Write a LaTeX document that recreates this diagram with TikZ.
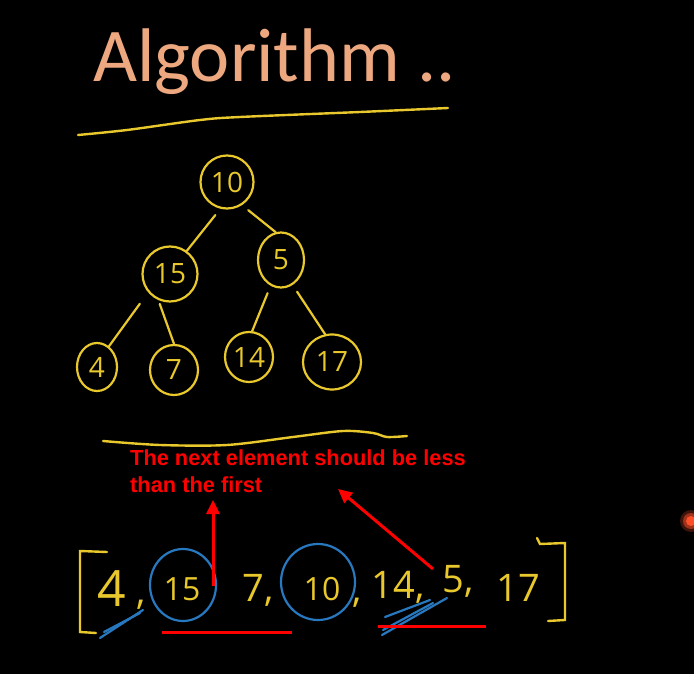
\documentclass[tikz,border=0pt]{standalone}
\usepackage{fontspec}
\setmainfont{Liberation Sans}
\newfontfamily\titlefont{Carlito}
\newfontfamily\handfont{Open Sans}
\usetikzlibrary{arrows.meta,shapes.geometric}
\definecolor{chalk}{RGB}{232,200,44}
\definecolor{peach}{RGB}{238,168,128}
\definecolor{penblue}{RGB}{40,120,192}
\definecolor{penred}{RGB}{255,0,0}
\definecolor{glow}{RGB}{255,80,40}
\tikzset{
  treenode/.style={ellipse, draw=chalk, line width=2.2pt, text=chalk, inner sep=0pt,
    font=\handfont\fontsize{28}{28}\selectfont},
  treeedge/.style={draw=chalk, line width=2.2pt, line cap=round},
  chalkline/.style={draw=chalk, line width=2.4pt, line cap=round},
  digit/.style={anchor=base, text=chalk, inner sep=0pt, font=\handfont\fontsize{38}{38}\selectfont},
  smalldigit/.style={digit, font=\handfont\fontsize{32}{32}\selectfont},
  bigdigit/.style={digit, font=\handfont\fontsize{50}{50}\selectfont},
  bluemark/.style={draw=penblue, line width=2.2pt, line cap=round},
  redline/.style={draw=penred, line width=3pt},
  redarrow/.style={draw=penred, line width=3pt, -{Triangle[length=14pt,width=13pt]}},
}
\begin{document}
\begin{tikzpicture}[x=1pt,y=-1pt]
\fill[black] (0,0) rectangle (694,674);
\useasboundingbox (0,0) rectangle (694,674);

% title
\node[anchor=base west, inner sep=0pt, text=peach, font=\titlefont\fontsize{76}{80}\selectfont] (title) at (93,82) {Algorithm ..};
\draw[chalkline] plot[smooth] coordinates {(78,135) (127,130) (200,120) (240,117) (360,112) (448,108)};

% tree
\node[treenode, minimum width=53pt, minimum height=53pt] (n10) at (227,182) {10};
\node[treenode, minimum width=55pt, minimum height=55pt] (n15) at (170,274) {15};
\node[treenode, minimum width=46pt, minimum height=55pt] (n5) at (281,260) {5};
\node[treenode, minimum width=40pt, minimum height=48pt] (n4) at (97,367) {4};
\node[treenode, minimum width=48pt, minimum height=50pt] (n7) at (174,370) {7};
\node[treenode, minimum width=48pt, minimum height=50pt] (n14) at (249,357) {14};
\node[treenode, minimum width=58pt, minimum height=55pt] (n17) at (332,362) {17};

\draw[treeedge, shorten <=8pt] (n10.-104) -- (n15.54);
\draw[treeedge, shorten <=8pt] (n10.-57) -- (n5.101);
\draw[treeedge, shorten <=14pt] (n15.-140) -- (n4.60);
\draw[treeedge, shorten <=4pt] (n15.-114) -- (n7.90);
\draw[treeedge, shorten <=8pt] (n5.-112) -- (n14.83);
\draw[treeedge, shorten <=8pt] (n5.-65) -- (n17.104);

\draw[chalkline] plot[smooth] coordinates {(103,441) (160,445) (227,445) (293,437) (343,431) (373,433) (387,437) (407,436)};

% note
\node[anchor=base west, inner sep=0pt, text=penred, align=left,
  font=\bfseries\fontsize{21.8}{27}\selectfont] (note) at (130,492) {The next element should be less\\than the first};

% array
\draw[chalkline] (107,552) -- (80,551) -- (80,632) -- (96,633);
\draw[chalkline] (537,538) -- (540,544) -- (565,543) -- (565,620) -- (548,621);
\node[bigdigit] (a4) at (112,606) {4};
\node[digit] (c0) at (141,604) {,};
\node[smalldigit] (a15) at (182,600) {15};
\node[digit] (a7) at (258,601) {7,};
\node[smalldigit] (a10) at (322,600) {10};
\node[digit] (c1) at (357,602) {,};
\node[digit] (a14) at (398,598) {14,};
\node[digit] (a5) at (458,592) {5,};
\node[digit] (a17) at (518,601) {17};

% blue marks
\draw[bluemark] (183,585) ellipse [x radius=33pt, y radius=36pt];
\draw[bluemark] (318,582) ellipse [x radius=37pt, y radius=38pt];
\draw[bluemark] (100,638) -- (143,610);
\draw[bluemark] (104,632) -- (140,613);
\draw[bluemark] (382,635) -- (447,598);
\draw[bluemark] (385,617) -- (430,600);
\draw[bluemark] (383,630) -- (433,603);

% red arrows and underlines
\coordinate (s1) at (213,586);
\coordinate (t1) at (213,500);
\coordinate (s2) at (433,569);
\coordinate (t2) at (338,489);
\draw[redarrow] (s1) -- (t1);
\draw[redarrow] (s2) -- (t2);
\coordinate (u1a) at (162,632);
\coordinate (u1b) at (292,632);
\coordinate (u2a) at (378,626);
\coordinate (u2b) at (486,626);
\draw[redline] (u1a) -- (u1b);
\draw[redline] (u2a) -- (u2b);

% glowing dot at the right edge
\fill[glow, opacity=0.25] (691,521) circle (11pt);
\fill[glow, opacity=0.5] (691,521) circle (8pt);
\fill[glow] (691,521) circle (5pt);
\end{tikzpicture}
\end{document}
